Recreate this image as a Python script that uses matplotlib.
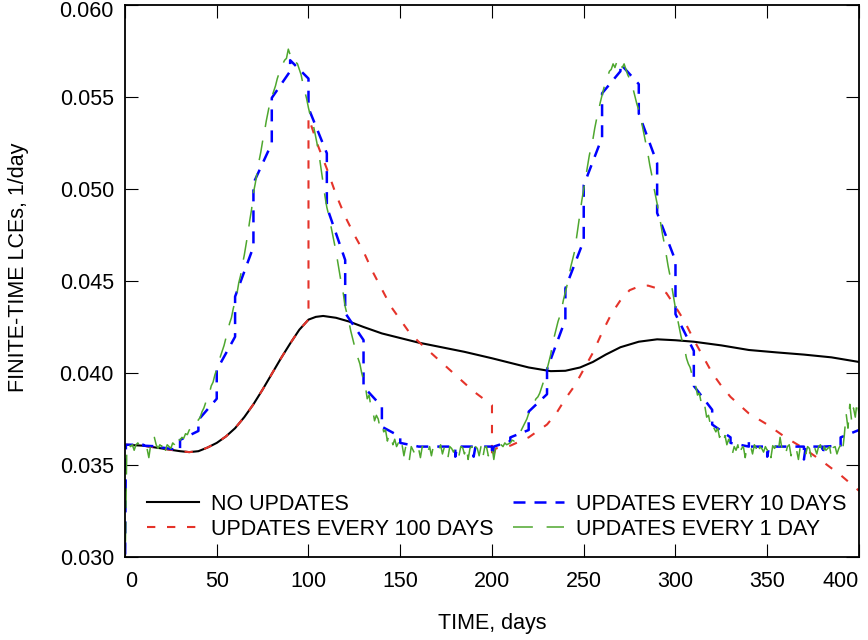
import numpy as np
import matplotlib
matplotlib.use("Agg")
import matplotlib.pyplot as plt
import matplotlib.transforms as mtransforms
from matplotlib.ticker import FormatStrFormatter

plt.rcParams['font.family'] = ['Liberation Sans', 'DejaVu Sans']

# values are in units of 1e-3 1/day
# no updates
black_t = [0, 10, 20, 30, 35, 40, 45, 50, 55, 60, 65, 70, 75, 80, 85, 90, 95, 100,
           104, 108, 115, 122, 130, 140, 150, 160, 170, 185, 200, 210, 220, 232, 240,
           248, 255, 262, 270, 280, 290, 300, 310, 325, 340, 355, 370, 385, 400]
black_v = [36.1, 36.05, 35.9, 35.75, 35.7, 35.75, 35.95, 36.2, 36.55, 37.0, 37.6, 38.3,
           39.1, 39.95, 40.8, 41.6, 42.35, 42.9, 43.05, 43.1, 43.0, 42.8, 42.5, 42.15,
           41.9, 41.65, 41.45, 41.15, 40.8, 40.55, 40.3, 40.1, 40.12, 40.3, 40.6, 41.0,
           41.4, 41.7, 41.83, 41.78, 41.7, 41.5, 41.25, 41.12, 41.0, 40.85, 40.6]

# updates every 100 days (same as no updates until day 100)
red_t = [100, 105, 110, 115, 120, 125, 130, 135, 140, 145, 150, 155, 160, 170, 180,
         190, 200, 200, 202, 210, 220, 230, 235, 240, 245, 250, 255, 260, 265, 270,
         275, 280, 285, 290, 295, 300, 305, 310, 315, 320, 325, 330, 340, 350, 360,
         370, 380, 390, 400]
red_v = [53.9, 52.4, 51.1, 49.7, 48.5, 47.5, 46.6, 45.5, 44.55, 43.6, 42.9, 42.2, 41.7,
         40.8, 39.9, 39.0, 38.25, 35.3, 35.9, 36.05, 36.5, 37.2, 37.8, 38.6, 39.3, 40.2,
         41.1, 42.2, 43.2, 43.95, 44.5, 44.7, 44.75, 44.6, 44.35, 43.6, 42.8, 41.8, 40.9,
         40.0, 39.3, 38.7, 37.8, 37.2, 36.5, 35.9, 35.2, 34.45, 33.6]

# updates every 10 days
blue_t = [0, 0.5, 10, 10, 20, 20, 30, 30, 40, 40, 50, 50, 60, 60, 70, 70, 80, 80, 90, 90,
          100, 100, 110, 110, 120, 120, 130, 130, 140, 140, 150, 150, 160, 170, 180, 180,
          181, 190, 190, 191, 200, 200, 201, 210, 210, 220, 220, 230, 230, 240, 240, 250,
          250, 260, 260, 270, 270, 280, 280, 290, 290, 300, 300, 310, 310, 320, 320, 330,
          330, 340, 340, 341, 350, 350, 351, 360, 370, 370, 371, 380, 380, 381, 390, 390,
          400]
blue_v = [29.0, 36.1, 36.1, 36.05, 36.0, 35.95, 35.8, 36.36, 36.85, 37.45, 38.6, 40.16,
          41.97, 44.15, 46.86, 50.31, 52.48, 54.95, 56.4, 57.0, 56.0, 54.4, 51.94, 49.03,
          46.14, 43.26, 41.79, 39.26, 38.17, 37.08, 36.54, 36.2, 36.0, 36.0, 36.0, 35.45,
          36.0, 36.0, 35.45, 36.0, 36.0, 35.5, 36.0, 36.3, 36.5, 36.9, 37.9, 38.85, 40.2,
          42.9, 44.6, 47.2, 50.2, 52.8, 55.2, 56.4, 56.8, 55.7, 54.1, 51.4, 48.7, 46.1,
          43.2, 41.2, 39.3, 38.0, 37.2, 36.5, 36.2, 36.0, 36.35, 36.0, 36.0, 35.45, 36.0,
          36.0, 36.0, 35.3, 36.0, 36.0, 35.55, 36.0, 36.05, 36.5, 36.9]

# updates every day, days 0..400
green_v = [
    29.0, 36.1, 36.15, 36.0, 36.1, 35.8, 36.1, 36.2, 36.05, 36.1,
    36.0, 36.1, 35.9, 35.4, 36.1, 36.0, 36.5, 36.1, 35.9, 36.1,
    36.0, 36.3, 35.8, 36.1, 36.0, 35.9, 36.2, 36.1, 35.9, 36.4,
    36.35, 36.5, 36.45, 36.7, 36.65, 36.9, 37.0, 37.1, 37.05, 37.35,
    37.45, 37.6, 37.9, 38.1, 38.4, 38.6, 38.9, 39.3, 39.5, 39.9,
    40.2, 40.5, 40.9, 41.2, 41.5, 41.9, 42.3, 42.7, 43.0, 43.5,
    43.9, 44.3, 44.9, 45.3, 45.9, 46.4, 47.0, 47.6, 48.3, 48.9,
    49.8, 50.3, 50.9, 51.5, 52.0, 52.6, 53.1, 53.7, 54.2, 54.7,
    55.0, 55.3, 55.6, 56.0, 56.3, 56.5, 56.8, 57.0, 57.1, 57.6,
    57.3, 57.1, 57.2, 56.9, 56.8, 56.5, 56.2, 55.7, 55.3, 54.9,
    54.4, 54.0, 53.7, 53.3, 52.8, 52.3, 51.7, 51.0, 50.3, 49.6,
    49.0, 48.6, 48.1, 47.6, 47.1, 46.6, 46.0, 45.4, 44.8, 44.3,
    43.6, 43.2, 42.8, 42.3, 41.9, 41.5, 41.1, 40.8, 40.5, 40.0,
    39.6, 39.3, 38.6, 38.8, 38.2, 38.0, 37.4, 37.7, 37.5, 37.0,
    37.2, 36.8, 36.9, 36.3, 36.7, 36.5, 36.1, 36.4, 36.0, 36.2,
    35.8, 36.1, 35.5, 36.0, 35.9, 35.3, 36.0, 35.8, 35.6, 36.0,
    35.9, 35.4, 36.0, 35.9, 36.05, 35.7, 36.0, 35.5, 36.0, 35.9,
    36.0, 35.8, 36.1, 35.6, 35.95, 36.0, 35.4, 36.0, 35.9, 35.7,
    36.0, 35.9, 35.5, 36.0, 35.95, 35.6, 36.0, 35.3, 35.9, 36.0,
    35.6, 36.0, 35.9, 35.5, 36.0, 35.4, 35.95, 36.0, 35.5, 35.9,
    36.0, 35.3, 35.95, 36.05, 35.8, 36.1, 36.0, 36.2, 36.1, 36.15,
    36.2, 36.35, 36.3, 36.5, 36.45, 36.6, 36.9, 37.1, 37.3, 37.5,
    37.8, 38.0, 38.2, 38.4, 38.6, 38.7, 38.9, 39.2, 39.5, 39.9,
    40.2, 40.6, 41.0, 41.6, 42.0, 42.4, 42.8, 43.1, 43.5, 44.0,
    44.4, 44.8, 45.3, 45.8, 46.2, 46.6, 47.3, 48.0, 48.7, 49.4,
    50.0, 50.6, 51.2, 51.8, 52.3, 52.7, 53.3, 53.8, 54.2, 54.7,
    55.1, 55.5, 55.8, 56.1, 56.4, 56.5, 56.8, 56.6, 56.9, 56.7,
    56.9, 56.6, 56.8, 56.5, 56.2, 56.0, 55.7, 55.4, 55.0, 54.6,
    54.3, 53.9, 53.4, 52.9, 52.4, 51.9, 51.3, 50.8, 50.2, 49.7,
    49.2, 48.6, 48.1, 47.5, 47.0, 46.4, 45.8, 45.3, 44.7, 44.1,
    43.5, 43.0, 42.5, 42.0, 41.6, 41.3, 40.8, 40.5, 40.3, 39.9,
    39.6, 39.3, 38.8, 38.9, 38.4, 38.0, 38.2, 37.6, 37.7, 37.2,
    37.4, 37.0, 36.8, 37.0, 36.5, 36.7, 36.3, 36.6, 36.1, 36.4,
    36.1, 35.6, 36.0, 35.8, 36.1, 35.5, 35.9, 36.0, 35.4, 36.0,
    35.9, 36.0, 35.6, 36.1, 35.9, 35.5, 36.0, 35.9, 35.7, 36.0,
    35.8, 36.0, 35.4, 36.05, 35.9, 36.1, 35.7, 36.5, 35.9, 36.0,
    35.6, 36.0, 36.1, 35.5, 35.9, 36.0, 35.8, 35.3, 36.0, 35.9,
    36.0, 35.6, 36.0, 35.9, 35.4, 36.0, 35.9, 35.6, 36.0, 36.1,
    35.5, 36.0, 35.8, 35.9, 36.0, 35.4, 35.95, 36.0, 35.6, 35.9,
    36.1, 35.7, 36.6, 37.8, 37.0, 38.3, 37.4, 38.1, 37.6, 38.5,
    37.8]
green_t = np.arange(len(green_v))

labels = ["NO UPDATES", "UPDATES EVERY 100 DAYS", "UPDATES EVERY 10 DAYS",
          "UPDATES EVERY 1 DAY"]

bt = np.array(black_t)
bv = np.array(black_v) * 1e-3
rt = np.concatenate([bt[bt <= 100], red_t])
rv = np.concatenate([bv[bt <= 100], np.array(red_v) * 1e-3])

fs = 15.5

fig = plt.figure(figsize=(8.68, 6.4), dpi=100)
ax = fig.add_axes([0.144, 0.1297, 0.8456, 0.8625])

ax.plot(bt, bv, color='black', lw=1.5, label=labels[0])
ax.plot(rt, rv, color='#e5332a', lw=1.5, dashes=(4, 5.6), label=labels[1])
ax.plot(blue_t, np.array(blue_v) * 1e-3, color='#0000ff', lw=1.8, dashes=(4.8, 3.6),
        label=labels[2])
ax.plot(green_t, np.array(green_v) * 1e-3, color='#4ea72e', lw=1.1, dashes=(13, 9),
        label=labels[3])

ax.set_xlim(0, 400)
ax.set_ylim(0.030, 0.060)
ax.set_xticks(np.arange(0, 401, 50))
ax.set_yticks(np.arange(0.030, 0.0601, 0.005))
ax.yaxis.set_major_formatter(FormatStrFormatter('%.3f'))
ax.tick_params(direction='in', length=9.5, width=0.8, top=True, right=True,
               labelsize=fs)
ax.tick_params(axis='y', pad=8)
ax.tick_params(axis='x', pad=10)
for s in ax.spines.values():
    s.set_linewidth(1.3)

# keep edge labels inside the picture, as in the original
xl = ax.get_xticklabels()
xl[0].set_horizontalalignment('left')
xl[-1].set_horizontalalignment('right')
yl = ax.get_yticklabels()
yl[-1].set_transform(yl[-1].get_transform() +
                     mtransforms.ScaledTranslation(0, -0.04, fig.dpi_scale_trans))

ax.set_xlabel("TIME, days", fontsize=fs, labelpad=15)
ax.set_ylabel("FINITE-TIME LCEs, 1/day", fontsize=fs)
ax.yaxis.set_label_coords(-0.131, 0.524)

ax.legend(ncol=2, loc='lower left', bbox_to_anchor=(0.03, 0.031), frameon=False,
          fontsize=fs, handlelength=2.4, handletextpad=0.55, columnspacing=0.9,
          labelspacing=0.2, borderpad=0, borderaxespad=0)

fig.savefig("out.png", dpi=100)
